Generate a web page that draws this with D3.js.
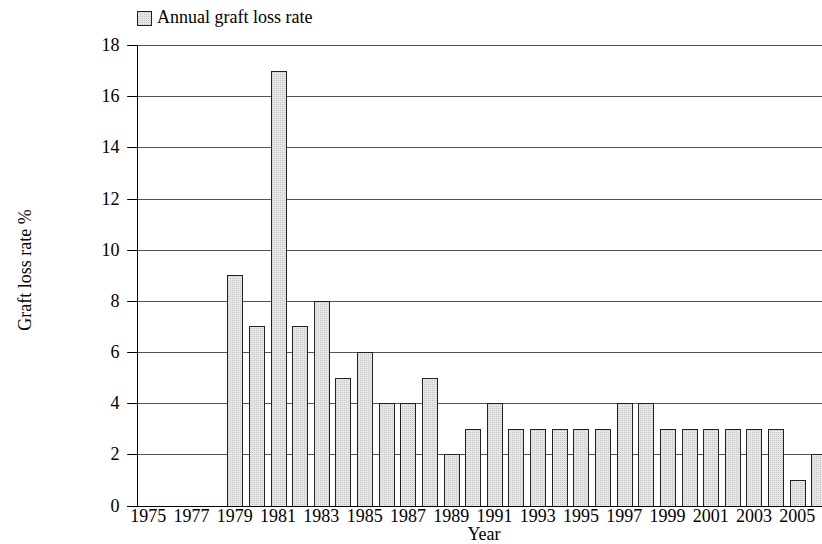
<!DOCTYPE html>
<html>
<head>
<meta charset="utf-8">
<script src="https://cdn.jsdelivr.net/npm/d3@7"></script>
<style>
  html, body { margin: 0; padding: 0; background: #fff; overflow: hidden; }
  svg { display: block; }
</style>
</head>
<body>
<script>
// data (null = no bar drawn)
const years = d3.range(1975, 2007);
const lossRate = [null, null, null, null, 9, 7, 17, 7, 8, 5, 6, 4, 4, 5, 2, 3,
                  4, 3, 3, 3, 3, 3, 4, 4, 3, 3, 3, 3, 3, 3, 1, 2];
const yTicks = [0, 2, 4, 6, 8, 10, 12, 14, 16, 18];
const xTickYears = d3.range(1975, 2006, 2);
const legendLabel = "Annual graft loss rate";

const width = 822, height = 544;
const font = "'Liberation Serif', 'Times New Roman', serif";
const fontSize = "18px";

var svg = d3.select("body").append("svg")
            .attr("width", width)
            .attr("height", height)
            .style("font-family", font);

// stipple fill like the original bars
var defs = svg.append("defs");
var pat = defs.append("pattern")
              .attr("id", "stipple")
              .attr("patternUnits", "userSpaceOnUse")
              .attr("width", 2)
              .attr("height", 2);
pat.append("rect").attr("width", 2).attr("height", 2).attr("fill", "#e6e6e6");
pat.append("rect").attr("width", 1).attr("height", 1).attr("fill", "#c8c8c8");

// axis runs past the right edge of the window, as in the picture
var x = d3.scaleBand()
          .domain(years)
          .range([137.5, 829.7])
          .paddingInner(0.3)
          .paddingOuter(0.15);

var y = d3.scaleLinear()
          .domain([0, 18])
          .range([505.5, 45]);

// gridlines
svg.append("g")
   .selectAll("line")
   .data(yTicks.filter(d => d > 0))
   .join("line")
   .attr("x1", 127)
   .attr("x2", width)
   .attr("y1", d => Math.round(y(d)) + 0.5)
   .attr("y2", d => Math.round(y(d)) + 0.5)
   .attr("stroke", "#555")
   .attr("stroke-width", 1);

// bars
var data = years.map((yr, i) => ({year: yr, value: lossRate[i]}))
                .filter(d => d.value != null);

svg.append("g")
   .selectAll("rect")
   .data(data)
   .join("rect")
   .attr("x", d => Math.round(x(d.year)) + 0.5)
   .attr("y", d => Math.round(y(d.value)) + 0.5)
   .attr("width", Math.round(x.bandwidth()))
   .attr("height", d => Math.round(y(0)) - Math.round(y(d.value)))
   .attr("fill", "url(#stipple)")
   .attr("stroke", "#222")
   .attr("stroke-width", 1);

// y axis
var yAxis = svg.append("g")
               .attr("transform", "translate(137.5,0.5)")
               .call(d3.axisLeft(y).tickValues(yTicks).tickSize(10).tickPadding(8));
yAxis.select(".domain").attr("d", "M0," + Math.round(y(18)) + "V" + Math.round(y(0)));
yAxis.selectAll(".tick line").attr("stroke", "#000");
yAxis.selectAll(".tick")
     .attr("transform", d => "translate(0," + Math.round(y(d)) + ")");
yAxis.selectAll("text")
     .style("font-family", font)
     .style("font-size", fontSize)
     .attr("fill", "#000");

// baseline
svg.append("line")
   .attr("x1", 127)
   .attr("x2", width)
   .attr("y1", Math.round(y(0)) + 0.5)
   .attr("y2", Math.round(y(0)) + 0.5)
   .attr("stroke", "#000");

// x tick labels, every other year
svg.append("g")
   .selectAll("text")
   .data(xTickYears)
   .join("text")
   .attr("x", d => x(d) + x.bandwidth() / 2)
   .attr("y", 522)
   .attr("text-anchor", "middle")
   .style("font-size", fontSize)
   .text(d => d);

// axis titles
svg.append("text")
   .attr("x", 484)
   .attr("y", 540)
   .attr("text-anchor", "middle")
   .style("font-size", fontSize)
   .text("Year");

svg.append("text")
   .attr("transform", "translate(31,270) rotate(-90)")
   .attr("text-anchor", "middle")
   .style("font-size", fontSize)
   .text("Graft loss rate %");

// legend
svg.append("rect")
   .attr("x", 137.5)
   .attr("y", 11.5)
   .attr("width", 14)
   .attr("height", 14)
   .attr("fill", "url(#stipple)")
   .attr("stroke", "#222");

svg.append("text")
   .attr("x", 157)
   .attr("y", 23)
   .style("font-size", fontSize)
   .text(legendLabel);
</script>
</body>
</html>
